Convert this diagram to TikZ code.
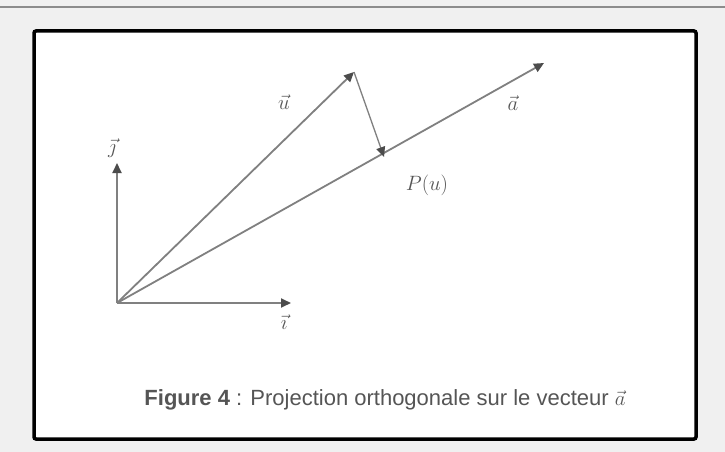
\documentclass[tikz,border=0pt]{standalone}
\usepackage{fontspec}
\setsansfont{Liberation Sans}
\usetikzlibrary{arrows.meta}
\definecolor{bg}{HTML}{F0F0F0}
\definecolor{ln}{HTML}{808080}
\definecolor{tx}{HTML}{555555}
\tikzset{
  vec/.style={draw=ln, line width=1.8pt, -{Triangle[length=10pt,width=9pt,fill=black!70,color=black!70]}},
  lab/.style={text=tx, font=\fontsize{22}{22}\selectfont},
}
\begin{document}
\begin{tikzpicture}[x=1pt,y=-1pt]
\useasboundingbox (0,0) rectangle (725,452);
\fill[bg] (0,0) rectangle (725,452);
\draw[black!45, line width=2pt] (0,7) -- (725,7);
\draw[black, line width=3.5pt, fill=white, rounded corners=2pt] (34,31) rectangle (696,439);
\coordinate (O) at (117,303);
\coordinate (J) at (117,163);
\coordinate (I) at (291,303);
\coordinate (U) at (354,72);
\coordinate (A) at (544,63);
\coordinate (P) at (384,157);
\draw[vec] (O) -- (J);
\draw[vec] (O) -- (I);
\draw[vec] (O) -- (U);
\draw[vec] (O) -- (A);
\draw[vec, line width=1.3pt] (U) -- (P);
\node[lab] (lj) at (112,148) {$\vec{\jmath}$};
\node[lab] (li) at (284,322) {$\vec{\imath}$};
\node[lab] (lu) at (284,102) {$\vec{u}$};
\node[lab] (la) at (513,103) {$\vec{a}$};
\node[lab] (lp) at (427,185) {$P(u)$};
\node[text=tx, font=\sffamily\fontsize{22}{23}\selectfont, inner sep=0pt] (cap) at (385,400) {\textbf{Figure 4} : Projection orthogonale sur le vecteur $\vec{a}$};
\end{tikzpicture}
\end{document}
